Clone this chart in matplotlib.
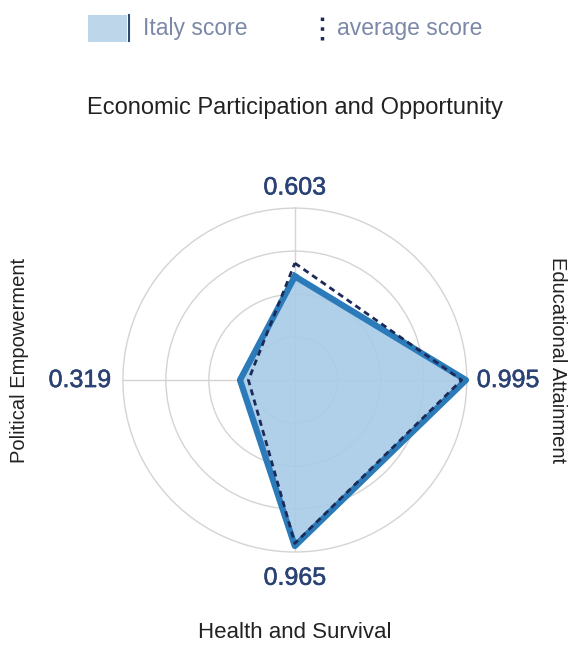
import matplotlib
matplotlib.use("Agg")
import matplotlib.pyplot as plt
import matplotlib.patheffects as pe
import numpy as np
from matplotlib.patches import Rectangle
from matplotlib.lines import Line2D

# categories clockwise from the top
categories = ["Economic Participation and Opportunity", "Educational Attainment",
              "Health and Survival", "Political Empowerment"]
italy_scores = [0.603, 0.995, 0.965, 0.319]
average_scores = [0.68, 0.97, 0.95, 0.27]
legend_labels = ["Italy score", "average score"]

plt.rcParams['font.family'] = ['Liberation Sans', 'DejaVu Sans']

fill_color = "#a8cbe8"
line_color = "#2b7bba"
avg_color = "#1b2a57"
value_color = "#2a4274"
legend_text = "#7c88a8"
grid_color = "#d4d4d4"
label_color = "#222222"

fig = plt.figure(figsize=(5.77, 6.48), dpi=100)
ax = fig.add_axes([0.213, 0.148, 0.596, 0.531], projection="polar")
ax.set_theta_zero_location("N")
ax.set_theta_direction(-1)

angles = np.linspace(0, 2 * np.pi, len(categories), endpoint=False)
a_closed = np.append(angles, angles[0])
italy_closed = np.append(italy_scores, italy_scores[0])
avg_closed = np.append(average_scores, average_scores[0])

ax.fill(a_closed, italy_closed, color=fill_color, alpha=0.9, zorder=2)
ax.plot(a_closed, italy_closed, color=line_color, lw=4.5, solid_joinstyle="round",
        clip_on=False, zorder=3)
ax.plot(a_closed, avg_closed, color=avg_color, lw=2, ls=(0, (2.2, 1.6)),
        clip_on=False, zorder=4)

ax.set_ylim(0, 1)
ax.set_yticks([0.25, 0.5, 0.75])
ax.set_yticklabels([])
ax.set_xticks(angles)
ax.set_xticklabels([])
ax.grid(True, color=grid_color, lw=1)
ax.spines["polar"].set_color(grid_color)
ax.spines["polar"].set_linewidth(1)
ax.set_facecolor("white")

# value labels outside each axis (medium weight via a thin stroke)
offsets = [1.12, 1.24, 1.15, 1.25]
for ang, val, r in zip(angles, italy_scores, offsets):
    ax.text(ang, r, f"{val:.3f}", ha="center", va="center", fontsize=18,
            color=value_color, clip_on=False,
            path_effects=[pe.withStroke(linewidth=0.4, foreground=value_color)])

# category titles
fig.text(295 / 577, 1 - 108 / 648, categories[0], ha="center", va="center", fontsize=17, color=label_color)
fig.text(295 / 577, 1 - 632 / 648, categories[2], ha="center", va="center", fontsize=16, color=label_color)
fig.text(20 / 577, 1 - 360 / 648, categories[3], ha="center", va="center", rotation=90,
         fontsize=14.5, color=label_color)
fig.text(557 / 577, 1 - 360 / 648, categories[1], ha="center", va="center", rotation=-90,
         fontsize=14.5, color=label_color)

# legend drawn by hand
fig.add_artist(Rectangle((88 / 577, 1 - 42 / 648), 39 / 577, 27 / 648,
                         transform=fig.transFigure, facecolor="#bdd6ea", edgecolor="none"))
fig.add_artist(Line2D([129 / 577, 129 / 577], [1 - 41 / 648, 1 - 15 / 648],
                      transform=fig.transFigure, color="#2e4a6e", lw=1.5))
fig.text(143 / 577, 1 - 28 / 648, legend_labels[0], ha="left", va="center", fontsize=16.5, color=legend_text)
fig.add_artist(Line2D([322 / 577, 322 / 577], [1 - 40 / 648, 1 - 15 / 648],
                      transform=fig.transFigure, color=avg_color, lw=2.5, ls=(0, (1.0, 1.8))))
fig.text(337 / 577, 1 - 28 / 648, legend_labels[1], ha="left", va="center", fontsize=16.5, color=legend_text)

fig.savefig("out.png", dpi=100, facecolor="white")
